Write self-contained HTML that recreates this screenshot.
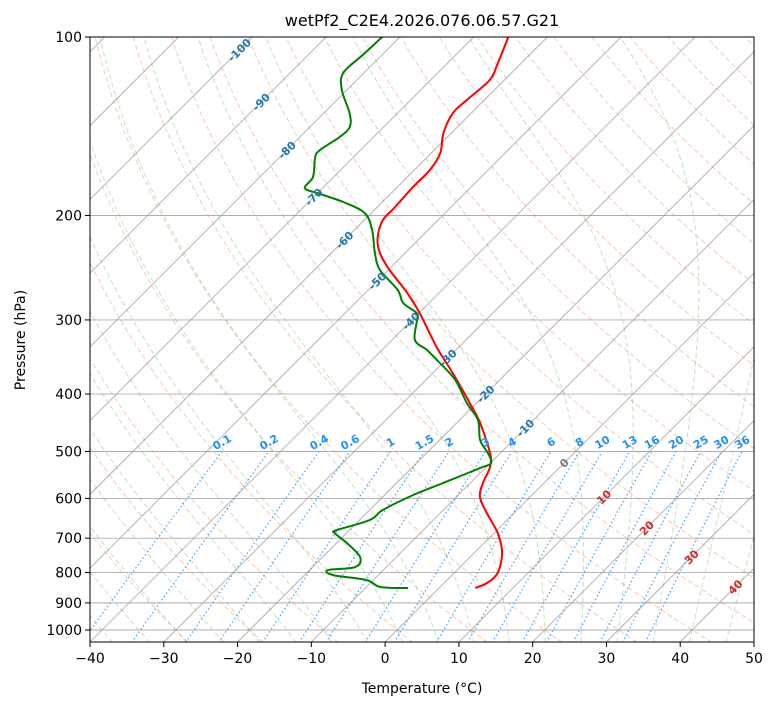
<!DOCTYPE html>
<html><head><meta charset="utf-8"><style>
body{margin:0;background:#fff;}
svg text{font-family:"DejaVu Sans","Liberation Sans",sans-serif;}
</style></head><body>
<svg id="chart" width="775" height="708" xmlns="http://www.w3.org/2000/svg">
<defs><clipPath id="clip"><rect x="90" y="37" width="664" height="605"/></clipPath></defs>
<rect width="775" height="708" fill="#fff"/>
<g id="bg" clip-path="url(#clip)"></g>
<g id="series" clip-path="url(#clip)"></g>
<g id="labels"></g>
<rect x="90" y="37" width="664" height="605" fill="none" stroke="#000" stroke-width="1"/>
<g id="axes"></g>
<text x="422" y="26" text-anchor="middle" font-size="16">wetPf2_C2E4.2026.076.06.57.G21</text>
<text x="422" y="693" text-anchor="middle" font-size="14">Temperature (°C)</text>
<text x="25" y="340" text-anchor="middle" font-size="14" transform="rotate(-90 25 340)">Pressure (hPa)</text>
</svg>
<script>
const tempPressure = [100,110.6,118.2,127.7,134.4,145.1,156.9,167.6,179.1,193.5,203.5,217.4,230.5,247.2,270.2,292.1,333.3,368.7,414.3,447.7,502.9,531.0,565.0,596.7,634.9,686.3,741.8,801.5,833.1,849.6];
const tempValues = [-65.3,-63.2,-62.0,-62.4,-62.5,-61.1,-58.8,-57.9,-57.9,-57.6,-57.5,-55.9,-53.6,-49.8,-44.3,-39.9,-33.0,-27.3,-20.9,-16.8,-11.4,-9.5,-8.3,-6.8,-3.7,0.5,3.8,5.9,5.8,4.9];
const dewPressure = [100,107.2,115.0,122.8,134.4,141.8,147.4,155.0,159.4,172.2,179.8,184.0,189.8,198.1,211.6,231.4,247.2,267.1,280.9,292.1,300.3,324.3,337.2,354.6,378.8,414.3,442.5,478.3,502.9,522.8,533.2,565.0,592.0,627.6,652.5,678.5,686.3,713.4,753.4,783.3,792.4,808.0,823.7,846.3,849.6];
const dewValues = [-82.4,-82.6,-82.8,-80.7,-76.5,-74.6,-74.6,-75.5,-75.2,-72.8,-72.4,-69.5,-65.3,-60.9,-57.6,-54.1,-51.1,-46.0,-43.5,-40.3,-39.3,-36.9,-33.9,-30.4,-26.0,-21.3,-17.5,-14.5,-11.7,-9.9,-10.7,-13.7,-16.1,-18.2,-18.6,-21.7,-21.6,-18.6,-14.9,-14.2,-17.5,-16.1,-10.9,-8.1,-4.2];
const xTicks = [-40,-30,-20,-10,0,10,20,30,40,50];
const pTicks = [100,200,300,400,500,600,700,800,900,1000];
const isoLabels = [-100,-90,-80,-70,-60,-50,-40,-30,-20,-10,0,10,20,30,40];
const isoLabelPressure = [102,110,118,126,134,142,150,158,166,174,182,190,198,206,214];
const mixRatios = [0.1,0.2,0.4,0.6,1,1.5,2,3,4,6,8,10,13,16,20,25,30,36];

const NS="http://www.w3.org/2000/svg";
const X0=90,X1=754,Y0=37,Y1=642,PX=(X1-X0)/90;
function yOf(p){return Y0+593*Math.log10(p/100);}
function xOf(T,p){return X0+(T+40)*PX+(Y1-yOf(p));}
function mk(tag,attrs,parent){const e=document.createElementNS(NS,tag);for(const k in attrs)e.setAttribute(k,attrs[k]);parent.appendChild(e);return e;}
const bg=document.getElementById('bg'),ser=document.getElementById('series'),lab=document.getElementById('labels'),ax=document.getElementById('axes');
function pathFrom(pts){return pts.map((q,i)=>(i?'L':'M')+q[0].toFixed(1)+' '+q[1].toFixed(1)).join('');}
function smoothPath(pts){
  let d='M'+pts[0][0].toFixed(1)+' '+pts[0][1].toFixed(1);
  for(let i=0;i<pts.length-1;i++){
    const p0=pts[Math.max(0,i-1)],p1=pts[i],p2=pts[i+1],p3=pts[Math.min(pts.length-1,i+2)];
    const c1=[p1[0]+(p2[0]-p0[0])/6,p1[1]+(p2[1]-p0[1])/6],c2=[p2[0]-(p3[0]-p1[0])/6,p2[1]-(p3[1]-p1[1])/6];
    d+='C'+c1[0].toFixed(1)+' '+c1[1].toFixed(1)+' '+c2[0].toFixed(1)+' '+c2[1].toFixed(1)+' '+p2[0].toFixed(1)+' '+p2[1].toFixed(1);
  }
  return d;
}

for(let th=-30;th<=200;th+=10){
  const pts=[];for(let p=1050;p>=95;p-=5){const T=(th+273.15)*Math.pow(p/1000,0.2857)-273.15;pts.push([xOf(T,p),yOf(p)]);}
  const e=mk('path',{d:pathFrom(pts),fill:'none',stroke:'#f4a582','stroke-width':1,'stroke-dasharray':'5,3',opacity:0.6},bg);
  
  
}
function es(T){return 6.112*Math.exp(17.67*T/(T+243.5));}
function dTdp(T,p){const Tk=T+273.15,rs=0.622*es(T)/(p-es(T));const Rd=287,Cp=1005,Lv=2.5e6;
  return (Rd*Tk+Lv*rs)/(Cp+Lv*Lv*rs*0.622/(Rd*Tk*Tk))/p;}
for(let t0=-40;t0<=45;t0+=5){
  let T=t0,p=1000;const up=[[xOf(T,p),yOf(p)]];
  while(p>100){const dp=-5;T+=dTdp(T,p)*dp;p+=dp;up.push([xOf(T,p),yOf(p)]);}
  T=t0;p=1000;const dn=[];while(p<1050){const dp=5;T+=dTdp(T,p)*dp;p+=dp;dn.unshift([xOf(T,p),yOf(p)]);}
  const e=mk('path',{d:pathFrom(dn.concat(up)),fill:'none',stroke:'#4daf4a','stroke-width':1,'stroke-dasharray':'5,3',opacity:0.35},bg);
  
  
}
mixRatios.forEach(w=>{
  const pts=[];for(let p=1050;p>=500;p-=10){const e=w*p/(622+w),l=Math.log(e/6.112);const Td=243.5*l/(17.67-l);pts.push([xOf(Td,p),yOf(p)]);}
  const e=mk('path',{d:pathFrom(pts),fill:'none',stroke:'#1e90ff','stroke-width':1.2,'stroke-dasharray':'1.5,2.5',opacity:0.85},bg);
  
  
  const ee=w*500/(622+w),l=Math.log(ee/6.112),Td=243.5*l/(17.67-l);
  const lx=xOf(Td,500)+2,ly=yOf(500)-6;
  const t=mk('text',{x:lx,y:ly,'font-size':11,'font-weight':'bold',fill:'#1e90ff','text-anchor':'middle',transform:`rotate(-30 ${lx} ${ly})`},lab);
  t.textContent=String(w);
  
  
});
for(let T=-200;T<=50;T+=10){
  const e=mk('line',{x1:xOf(T,1100),y1:yOf(1100),x2:xOf(T,90),y2:yOf(90),stroke:'#999','stroke-width':0.9,opacity:0.8},bg);
  
  
}
pTicks.forEach(p=>{
  const e=mk('line',{x1:X0,x2:X1,y1:yOf(p),y2:yOf(p),stroke:'#999','stroke-width':0.9,opacity:0.8},bg);
  
  
});
function drawSeries(P,V,color,name){
  const pts=P.map((p,i)=>[xOf(V[i],p),yOf(p)]);
  const e=mk('path',{d:smoothPath(pts),fill:'none',stroke:color,'stroke-width':2,'stroke-linejoin':'round'},ser);
  
  
}
drawSeries(tempPressure,tempValues,'#ff0000','temperature-line');
drawSeries(dewPressure,dewValues,'#008000','dewpoint-line');
// label heights along diagonal (pixel rows in reference)
const labelRows=[50,102,150,197,240,281,321,358,394,428,463,497,528,557,587];
isoLabels.forEach((T,i)=>{
  const yy=labelRows[i];
  const p=100*Math.pow(10,(yy-Y0)/593);
  const lx=xOf(T,p),ly=yy+4;
  const col=T<0?'#1f77b4':(T===0?'#777':'#d62728');
  const t=mk('text',{x:lx,y:ly,'font-size':11,'font-weight':'bold',fill:col,'text-anchor':'middle',transform:`rotate(-45 ${lx} ${yy})`},lab);
  t.textContent=String(T);
  
  
});
xTicks.forEach(T=>{
  const x=X0+(T+40)*PX;
  mk('line',{x1:x,x2:x,y1:Y1,y2:Y1+5,stroke:'#000'},ax);
  const t=mk('text',{x:x,y:Y1+21,'font-size':14,'text-anchor':'middle'},ax);
  t.textContent=T<0?'\u2212'+(-T):String(T);
  
  
});
pTicks.forEach(p=>{
  const y=yOf(p);
  mk('line',{x1:X0-5,x2:X0,y1:y,y2:y,stroke:'#000'},ax);
  const t=mk('text',{x:X0-8,y:y+5,'font-size':14,'text-anchor':'end'},ax);
  t.textContent=String(p);
  
  
});
</script>
</body></html>
